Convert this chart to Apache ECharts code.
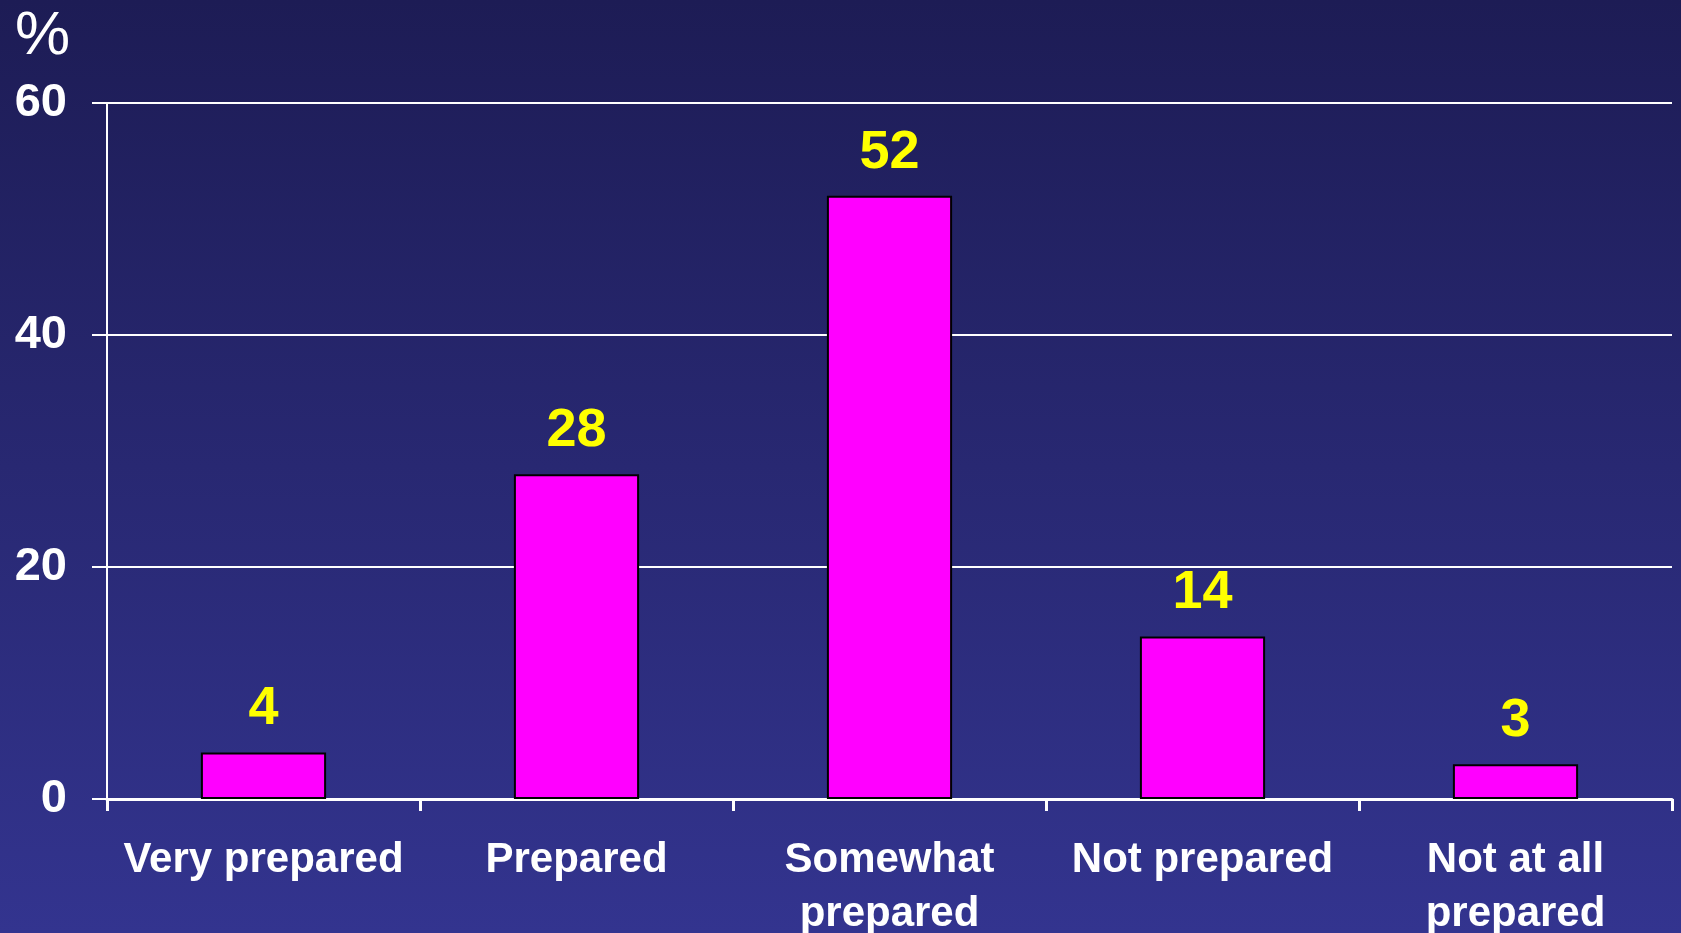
<!DOCTYPE html>
<html><head><meta charset="utf-8">
<script src="https://cdn.jsdelivr.net/npm/echarts@6/dist/echarts.min.js"></script>
<style>html,body{margin:0;padding:0;background:#1e1d58;}#c{width:1681px;height:933px;}</style>
</head><body><div id="c"></div>
<script>
const categories = ['Very prepared', 'Prepared', 'Somewhat\nprepared', 'Not prepared', 'Not at all\nprepared'];
const values = [4, 28, 52, 14, 3];
const yTicks = [0, 20, 40, 60];

const chart = echarts.init(document.getElementById('c'));
chart.setOption({
  backgroundColor: new echarts.graphic.LinearGradient(0, 0, 0, 1, [
    {offset: 0, color: '#1d1c55'},
    {offset: 1, color: '#33348f'}
  ]),
  animation: false,
  graphic: [{
    type: 'text', left: 15, top: 6,
    style: {text: '%', fill: '#ffffff', font: '62px "Liberation Sans", Arial, sans-serif'}
  }],
  grid: {left: 107, right: 9, top: 103, bottom: 134, containLabel: false, outerBoundsMode: 'none'},
  xAxis: {
    type: 'category', data: categories,
    axisLine: {lineStyle: {color: '#ffffff', width: 3}},
    axisTick: {show: true, alignWithLabel: false, length: 12, lineStyle: {color: '#ffffff', width: 3}},
    axisLabel: {color: '#ffffff', fontFamily: '"Liberation Sans", Arial, sans-serif', fontWeight: 'bold',
      fontSize: 42, margin: 34, lineHeight: 54, interval: 0},
    splitLine: {show: false}
  },
  yAxis: {
    type: 'value', min: yTicks[0], max: yTicks[yTicks.length - 1], interval: 20,
    axisLine: {show: true, lineStyle: {color: '#ffffff', width: 2}},
    axisTick: {show: true, length: 15, lineStyle: {color: '#ffffff', width: 2}},
    axisLabel: {color: '#ffffff', fontFamily: '"Liberation Sans", Arial, sans-serif', fontWeight: 'bold',
      fontSize: 47, margin: 40},
    splitLine: {show: true, lineStyle: {color: '#ffffff', width: 2}}
  },
  series: [{
    type: 'bar', data: values, barWidth: '40%',
    itemStyle: {color: '#ff00ff', borderColor: '#000000', borderWidth: 2},
    label: {show: true, position: 'top', distance: 16, color: '#ffff00',
      fontFamily: '"Liberation Sans", Arial, sans-serif', fontWeight: 'bold', fontSize: 54}
  }]
});
</script></body></html>
